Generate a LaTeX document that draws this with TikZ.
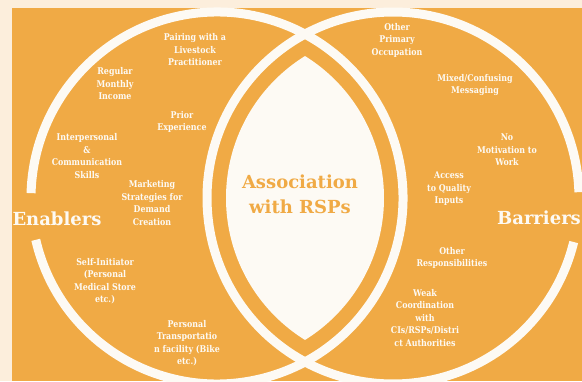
\documentclass[tikz,border=0pt]{standalone}
\usepackage{fontspec}
\setmainfont{DejaVu Serif}
\newfontfamily\tagfont{DejaVu Serif}[FakeStretch=0.85]
\usetikzlibrary{positioning}
\definecolor{venn}{HTML}{F0AA45}
\definecolor{cream}{HTML}{FCEEDC}
\definecolor{chalk}{HTML}{FDFAF4}
\tikzset{
x=1pt, y=1pt, % one unit is one pixel of the layout
ring/.style={draw=chalk, line width=9pt}, % the white outlines of the two circles
factor/.style={text=chalk, align=center, font=\tagfont\bfseries\fontsize{9.3}{12.5}\selectfont}, % small labels
side/.style={text=chalk, font=\bfseries\fontsize{18}{20}\selectfont}, % Enablers and Barriers
}

\begin{document}
\begin{tikzpicture}
    \useasboundingbox (0,0) rectangle (582,381);
    \fill[cream] (0,0) rectangle (582,381);
    \fill[venn] (12,0) rectangle (582,373);
    \coordinate (cl) at (217,183);
    \coordinate (cr) at (393,183);
    % the lens in the middle
    \begin{scope}
    \clip (cl) circle[radius=167pt];
    \fill[chalk] (cr) circle[radius=167pt];
    \end{scope}
    \draw[ring] (cl) ++(193:186pt) arc[start angle=193, end angle=538.5, radius=186pt];
    \draw[ring] (cr) ++(1.8:186pt) arc[start angle=1.8, end angle=346.3, radius=186pt];
    \node[text=venn, align=center, font=\bfseries\fontsize{18}{25}\selectfont] (rsp) at (300,186.5) {Association\\with RSPs};
    \node[side] (enab) at (57,162) {Enablers};
    \node[side] (barr) at (539,163) {Barriers};
    % enablers
    \node[factor] (pair) at (195,331) {Pairing with a\\Livestock\\Practitioner};
    \node[factor] (income) at (115,297) {Regular\\Monthly\\Income};
    \node[factor] (prior) at (182,259) {Prior\\Experience};
    \node[factor] (inter) at (87,225) {Interpersonal\\\&\\Communication\\Skills};
    \node[factor] (market) at (152,178) {Marketing\\Strategies for\\Demand\\Creation};
    \node[factor] (self) at (105,100) {Self-Initiator\\(Personal\\Medical Store\\etc.)};
    \node[factor] (trans) at (187,38) {Personal\\Transportatio\\n facility (Bike\\etc.)};
    % barriers
    \node[factor] (occup) at (397,341) {Other\\Primary\\Occupation};
    \node[factor] (mixed) at (475,296) {Mixed/Confusing\\Messaging};
    \node[factor] (motiv) at (507,231) {No\\Motivation to\\Work};
    \node[factor] (access) at (449,192) {Access\\to Quality\\Inputs};
    \node[factor] (resp) at (452,123) {Other\\Responsibilities};
    \node[factor] (weak) at (425,63) {Weak\\Coordination\\with\\CIs/RSPs/Distri\\ct Authorities};
\end{tikzpicture}
\end{document}
